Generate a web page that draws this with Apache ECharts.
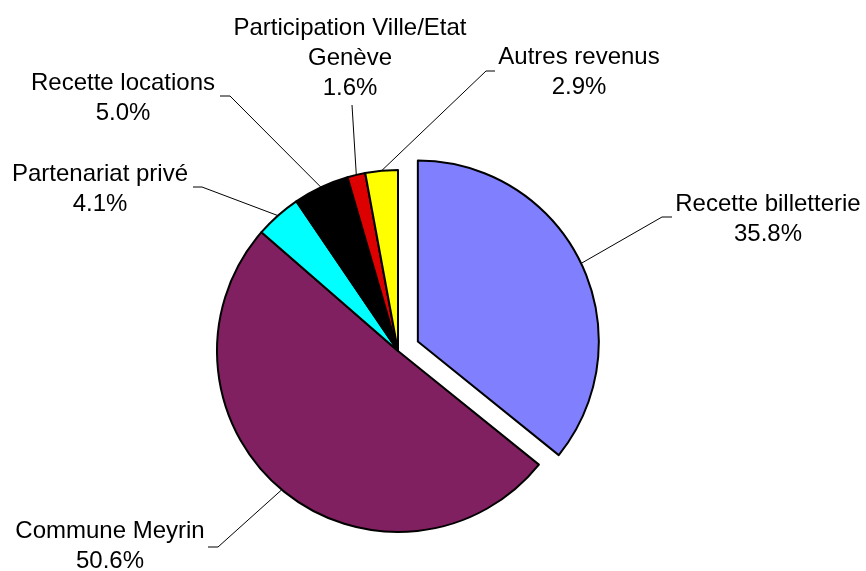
<!DOCTYPE html>
<html>
<head>
<meta charset="utf-8">
<script src="https://cdn.jsdelivr.net/npm/echarts@6/dist/echarts.min.js"></script>
<style>
  html, body { margin: 0; padding: 0; background: #fff; }
  #chart { width: 866px; height: 571px; }
</style>
</head>
<body>
<div id="chart"></div>
<script>
// data
const categories = ['Recette billetterie', 'Commune Meyrin', 'Partenariat privé', 'Recette locations', 'Participation Ville/Etat\nGenève', 'Autres revenus'];
const shares = [35.8, 50.6, 4.1, 5.0, 1.6, 2.9];
const colors = ['#8080FF', '#802060', '#00FFFF', '#000000', '#DD0000', '#FFFF00'];
const explodedIndex = 0;

// layout only: pie centre, label centres and leader bends
const pieCenter = [398, 351];
const explodeBy = 22;
const labelSpots = [
  {x: 768, y: 219, bend: [662, 217], end: [672, 217]},
  {x: 110, y: 546, bend: [218, 547], end: [208, 547]},
  {x: 100, y: 189, bend: [202, 187], end: [193, 187]},
  {x: 123, y: 98, bend: [230, 96], end: [220, 96]},
  {x: 350, y: 58, bend: [352, 105], end: [352, 105]},
  {x: 579, y: 72, bend: [486, 71], end: [495, 71]}
];

const chart = echarts.init(document.getElementById('chart'));

const hidden = {color: 'transparent', borderWidth: 0};

// base pie: every slice except the exploded one, plus all the labels
const baseData = categories.map((name, i) => ({
  name: name,
  value: shares[i],
  itemStyle: i === explodedIndex ? hidden : {color: colors[i]}
}));

// second pie: only the exploded slice is visible
const explodedData = categories.map((name, i) => ({
  name: name,
  value: shares[i],
  selected: i === explodedIndex,
  itemStyle: i === explodedIndex ? {color: colors[i]} : hidden
}));

const common = {
  type: 'pie',
  center: pieCenter,
  radius: 181,
  startAngle: 90,
  clockwise: true,
  avoidLabelOverlap: false,
  percentPrecision: 1,
  emphasis: {disabled: true},
  itemStyle: {borderColor: '#000', borderWidth: 2}
};

chart.setOption({
  animation: false,
  backgroundColor: '#fff',
  series: [
    Object.assign({}, common, {
      name: 'base',
      label: {
        show: true,
        formatter: p => p.name + '\n' + p.value.toFixed(1) + '%',
        fontFamily: 'Liberation Sans, Arial, sans-serif',
        fontSize: 24,
        lineHeight: 30,
        color: '#000',
        align: 'center'
      },
      labelLine: {show: true, lineStyle: {color: '#000', width: 1}},
      labelLayout: function (params) {
        const s = labelSpots[params.dataIndex];
        let start = params.labelLinePoints[0];
        if (params.dataIndex === explodedIndex) {
          // shift the leader start onto the pulled-out slice
          const vx = start[0] - pieCenter[0], vy = start[1] - pieCenter[1];
          const len = Math.sqrt(vx * vx + vy * vy);
          start = [start[0] + vx / len * explodeBy, start[1] + vy / len * explodeBy];
        }
        return {
          x: s.x,
          y: s.y,
          align: 'center',
          verticalAlign: 'middle',
          labelLinePoints: [start, s.bend, s.end]
        };
      },
      data: baseData
    }),
    Object.assign({}, common, {
      name: 'exploded',
      silent: true,
      selectedMode: 'single',
      selectedOffset: explodeBy,
      select: {itemStyle: {borderColor: '#000', borderWidth: 2}},
      label: {show: false},
      labelLine: {show: false},
      data: explodedData
    })
  ]
});
</script>
</body>
</html>
